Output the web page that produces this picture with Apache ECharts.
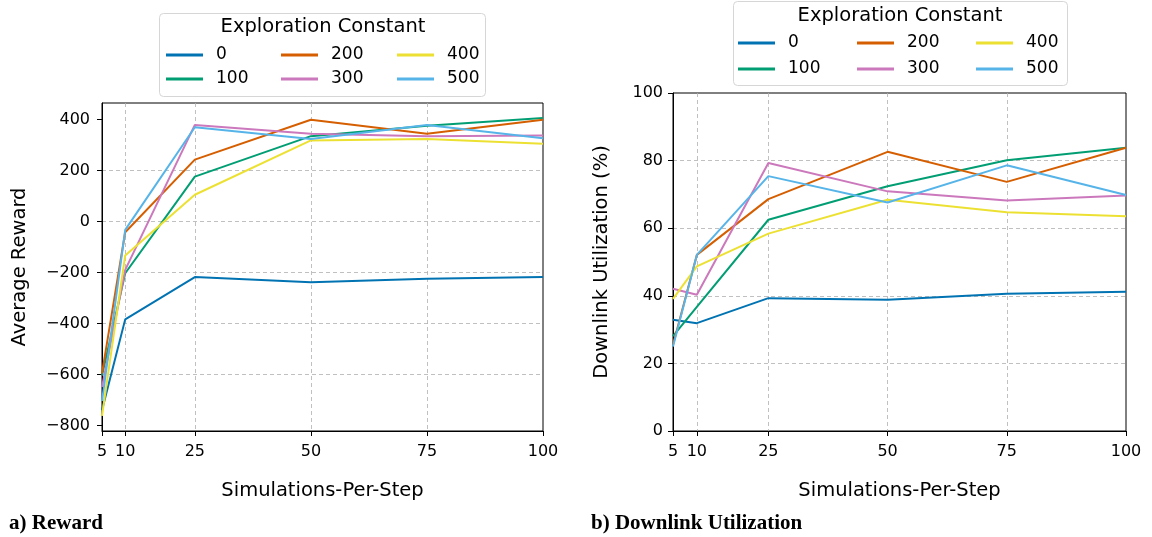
<!DOCTYPE html>
<html>
<head>
<meta charset="utf-8">
<script src="https://cdn.jsdelivr.net/npm/echarts@6/dist/echarts.min.js"></script>
<style>
html,body{margin:0;padding:0;background:#fff;}
#c{width:1152px;height:537px;}
</style>
</head>
<body>
<div id="c"></div>
<script>
// ---- data ----
const steps = [5, 10, 25, 50, 75, 100];
const seriesNames = ['0', '100', '200', '300', '400', '500'];
const seriesColors = ['#0173b2', '#029e73', '#d55e00', '#cc78bc', '#ece133', '#56b4e9'];

const reward0   = [-741, -384, -218, -238, -225, -218];
const reward100 = [-604, -203, 176, 335, 376, 406];
const reward200 = [-596, -42, 243, 399, 344, 399];
const reward300 = [-650, -190, 379, 344, 335, 337];
const reward400 = [-763, -133, 105, 318, 324, 305];
const reward500 = [-705, -33, 370, 324, 379, 327];

const util0   = [32.9, 31.9, 39.3, 38.8, 40.6, 41.2];
const util100 = [28.1, 36.7, 62.5, 72.4, 80.1, 83.8];
const util200 = [25.5, 52.1, 68.6, 82.6, 73.7, 83.8];
const util300 = [42.1, 40.3, 79.3, 70.9, 68.2, 69.7];
const util400 = [39.1, 48.7, 58.4, 68.4, 64.7, 63.5];
const util500 = [25.0, 52.1, 75.4, 67.6, 78.6, 69.8];

const rewardTicks = [-800, -600, -400, -200, 0, 200, 400];
const utilTicks = [0, 20, 40, 60, 80, 100];

const rewardSets = [reward0, reward100, reward200, reward300, reward400, reward500];
const utilSets = [util0, util100, util200, util300, util400, util500];

// ---- chart ----
const FONT = 'DejaVu Sans';
const chart = echarts.init(document.getElementById('c'));

function fmt(v) { return String(v).replace('-', '\u2212'); }

const gridLine = { show: true, showMinLine: false, showMaxLine: false, lineStyle: { color: '#b0b0b0', type: [4, 3], width: 0.8 } };

function xAxisCfg(gi) {
  return {
    type: 'value', gridIndex: gi, min: 5, max: 100,
    name: 'Simulations-Per-Step', nameLocation: 'middle', nameGap: 50,
    nameTextStyle: { fontFamily: FONT, fontSize: 19.5, color: '#000' },
    axisLine: { show: true, onZero: false, lineStyle: { color: '#000', width: 1 } },
    axisTick: { show: true, length: 5, customValues: steps, lineStyle: { color: '#000', width: 1 } },
    axisLabel: { customValues: steps, margin: 13, fontFamily: FONT, fontSize: 16, color: '#000', formatter: fmt },
    splitLine: gridLine
  };
}
function yAxisCfg(gi, name, min, max, ticks, gap, margin) {
  return {
    type: 'value', gridIndex: gi, min: min, max: max,
    name: name, nameLocation: 'middle', nameGap: gap,
    nameTextStyle: { fontFamily: FONT, fontSize: 19.5, color: '#000' },
    axisLine: { show: true, lineStyle: { color: '#000', width: 1 } },
    axisTick: { show: true, length: 5, customValues: ticks, lineStyle: { color: '#000', width: 1 } },
    axisLabel: { customValues: ticks, margin: margin, fontFamily: FONT, fontSize: 16, color: '#000', formatter: fmt },
    splitLine: gridLine
  };
}

const series = [];
seriesNames.forEach((n, i) => {
  series.push({
    name: n, type: 'line', xAxisIndex: 0, yAxisIndex: 0, symbol: 'none', z: 3,
    lineStyle: { width: 2, color: seriesColors[i] }, itemStyle: { color: seriesColors[i] },
    data: steps.map((s, k) => [s, rewardSets[i][k]])
  });
});
seriesNames.forEach((n, i) => {
  series.push({
    name: n, type: 'line', xAxisIndex: 1, yAxisIndex: 1, symbol: 'none', z: 3,
    lineStyle: { width: 2, color: seriesColors[i] }, itemStyle: { color: seriesColors[i] },
    data: steps.map((s, k) => [s, utilSets[i][k]])
  });
});

// legend layout: column-major order like matplotlib (ncol=3)
const legendOrder = ['0', '200', '400', '100', '300', '500'];
function makeLegends(colX, rowY) {
  return legendOrder.map((n, idx) => ({
    data: [n], left: colX[idx % 3], top: rowY[Math.floor(idx / 3)] - 10,
    padding: 0, icon: 'rect', itemWidth: 37, itemHeight: 3, selectedMode: false,
    textStyle: { fontFamily: FONT, fontSize: 17, color: '#000', lineHeight: 20, padding: [0, 0, 0, 8] }
  }));
}
const legends = makeLegends([166, 281, 397], [55, 79]).concat(makeLegends([738, 857, 976], [43, 69]));

chart.setOption({
  animation: false,
  backgroundColor: '#fff',
  grid: [
    { left: 102, top: 103, right: 609, bottom: 106, show: true, borderColor: '#000', borderWidth: 1, containLabel: false },
    { left: 673, top: 93, right: 26, bottom: 106, show: true, borderColor: '#000', borderWidth: 1, containLabel: false }
  ],
  xAxis: [xAxisCfg(0), xAxisCfg(1)],
  yAxis: [
    yAxisCfg(0, 'Average Reward', -822, 465, rewardTicks, 72, 12),
    yAxisCfg(1, 'Downlink Utilization (%)', 0, 100, utilTicks, 61, 10)
  ],
  legend: legends,
  series: series,
  graphic: [
    { type: 'rect', z: 0, shape: { x: 159.5, y: 13.5, width: 326, height: 83, r: 4 },
      style: { fill: 'rgba(255,255,255,0.8)', stroke: '#d6d6d6', lineWidth: 1 } },
    { type: 'text', z: 1, x: 323, y: 27, style: { text: 'Exploration Constant', font: '19.5px "DejaVu Sans"', fill: '#000', align: 'center', verticalAlign: 'middle' } },
    { type: 'rect', z: 0, shape: { x: 733.5, y: 1.5, width: 334, height: 84, r: 4 },
      style: { fill: 'rgba(255,255,255,0.8)', stroke: '#d6d6d6', lineWidth: 1 } },
    { type: 'text', z: 1, x: 900, y: 16, style: { text: 'Exploration Constant', font: '19.5px "DejaVu Sans"', fill: '#000', align: 'center', verticalAlign: 'middle' } },
    { type: 'text', x: 9, y: 524, style: { text: 'a) Reward', font: 'bold 21px "Liberation Serif"', fill: '#000', align: 'left', verticalAlign: 'middle' } },
    { type: 'text', x: 591, y: 524, style: { text: 'b) Downlink Utilization', font: 'bold 21px "Liberation Serif"', fill: '#000', align: 'left', verticalAlign: 'middle' } }
  ]
});
</script>
</body>
</html>
